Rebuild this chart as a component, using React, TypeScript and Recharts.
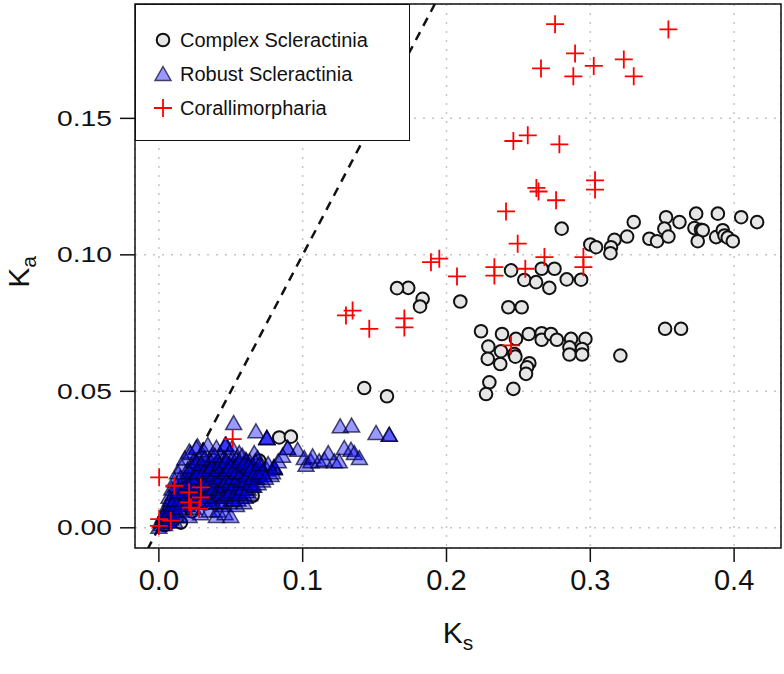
import React from 'react';
import { ScatterChart, Scatter, XAxis, YAxis, CartesianGrid, ReferenceArea } from 'recharts';

const fontStack = '"Liberation Sans", Arial, Helvetica, sans-serif';

// Ks / Ka pairs
const complexScleractinia: [number, number][] = [
  [0.2801, 0.1096], [0.3302, 0.112], [0.3527, 0.1138], [0.362, 0.112], [0.3736, 0.1151],
  [0.3887, 0.1151], [0.4049, 0.1138], [0.416, 0.112], [0.3515, 0.1096], [0.3724, 0.1098],
  [0.377, 0.1092], [0.3782, 0.109], [0.3411, 0.1059], [0.3464, 0.105], [0.3543, 0.1067],
  [0.3747, 0.105], [0.3875, 0.1065], [0.3921, 0.109], [0.3933, 0.1071], [0.3956, 0.1063],
  [0.3991, 0.105], [0.3256, 0.1067], [0.3168, 0.1055], [0.3144, 0.1028], [0.314, 0.1006],
  [0.3, 0.1038], [0.304, 0.1028],
  [0.2449, 0.0943], [0.2541, 0.0908], [0.2623, 0.09], [0.2662, 0.0949], [0.2751, 0.0949],
  [0.2715, 0.0879], [0.2836, 0.091], [0.2936, 0.0909],
  [0.1734, 0.0879], [0.1656, 0.0878], [0.1834, 0.0839], [0.1816, 0.0811], [0.2096, 0.0829],
  [0.243, 0.0808], [0.2523, 0.0808],
  [0.224, 0.072], [0.2386, 0.071], [0.2483, 0.0692], [0.2572, 0.071], [0.2662, 0.0713],
  [0.2662, 0.0689], [0.2727, 0.071], [0.2767, 0.0689], [0.2866, 0.0692], [0.2966, 0.0692],
  [0.2855, 0.0661], [0.2855, 0.0635], [0.2943, 0.0655], [0.2943, 0.0635], [0.2291, 0.0664],
  [0.2287, 0.0619], [0.2374, 0.06], [0.2379, 0.0647], [0.2472, 0.0637], [0.2479, 0.0627],
  [0.2576, 0.0603], [0.256, 0.0588], [0.2553, 0.0564], [0.2298, 0.0533], [0.2275, 0.049],
  [0.2465, 0.0509], [0.3209, 0.0631], [0.352, 0.0729], [0.3631, 0.0729],
  [0.1428, 0.0512], [0.1586, 0.0482], [0.0837, 0.0331], [0.0918, 0.0334], [0.0698, 0.0246],
  [0.0501, 0.0172], [0.0501, 0.0148], [0.0385, 0.0117], [0.064, 0.0136], [0.0652, 0.0117],
  [0.0153, 0.0019], [0.0373, 0.0117], [0.023, 0.006], [0.01, 0.003], [0.004, 0.001],
  [0.03, 0.012], [0.045, 0.02], [0.06, 0.022], [0.033, 0.009],
];

const robustScleractinia: [number, number][] = [
  [0.052, 0.038], [0.0675, 0.035], [0.0751, 0.0325], [0.0751, 0.0325], [0.0751, 0.0325],
  [0.0895, 0.0289], [0.0895, 0.0289], [0.0965, 0.0282], [0.1011, 0.0252], [0.1023, 0.0227],
  [0.1057, 0.024], [0.1069, 0.0258], [0.1115, 0.024], [0.115, 0.0246], [0.1178, 0.027],
  [0.122, 0.024], [0.1254, 0.024], [0.1289, 0.0289], [0.1336, 0.0282], [0.1359, 0.027],
  [0.1394, 0.0252], [0.1261, 0.0368], [0.134, 0.0371], [0.151, 0.0344], [0.1602, 0.0337],
  [0.1602, 0.0337], [0.0802, 0.0215], [0.0802, 0.0215], [0.0802, 0.0215], [0.0663, 0.027],
  [0.0687, 0.0252], [0.0559, 0.027], [0.0605, 0.0246], [0.0466, 0.0301], [0.0466, 0.0301],
  [0.0269, 0.0295], [0.0211, 0.0276],
  [0.0, 0.0], [0.001, 0.002], [0.002, 0.001], [0.003, 0.003], [0.004, 0.001], [0.004, 0.005],
  [0.005, 0.002], [0.006, 0.004], [0.006, 0.008], [0.007, 0.002], [0.007, 0.011], [0.008, 0.006],
  [0.009, 0.004], [0.009, 0.014], [0.01, 0.009], [0.011, 0.002], [0.011, 0.017], [0.012, 0.006],
  [0.012, 0.012], [0.013, 0.02], [0.014, 0.009], [0.014, 0.004], [0.015, 0.015], [0.016, 0.022],
  [0.016, 0.011], [0.017, 0.006], [0.018, 0.018], [0.018, 0.025], [0.019, 0.013], [0.019, 0.008],
  [0.02, 0.021], [0.021, 0.016], [0.021, 0.004], [0.022, 0.027], [0.022, 0.011], [0.023, 0.019],
  [0.024, 0.007], [0.024, 0.024], [0.025, 0.014], [0.026, 0.029], [0.026, 0.02], [0.027, 0.01],
  [0.028, 0.017], [0.028, 0.025], [0.029, 0.005], [0.03, 0.022], [0.03, 0.013], [0.031, 0.028],
  [0.032, 0.018], [0.032, 0.009], [0.033, 0.024], [0.034, 0.015], [0.034, 0.03], [0.035, 0.006],
  [0.036, 0.02], [0.036, 0.012], [0.037, 0.026], [0.038, 0.017], [0.038, 0.009], [0.039, 0.023],
  [0.04, 0.029], [0.04, 0.014], [0.04, 0.004], [0.041, 0.006], [0.042, 0.02], [0.042, 0.011],
  [0.043, 0.026], [0.044, 0.016], [0.045, 0.008], [0.045, 0.023], [0.046, 0.03], [0.046, 0.005],
  [0.047, 0.013], [0.048, 0.019], [0.048, 0.026], [0.049, 0.009], [0.05, 0.016], [0.05, 0.004],
  [0.051, 0.022], [0.051, 0.029], [0.052, 0.012], [0.053, 0.019], [0.054, 0.025], [0.054, 0.008],
  [0.055, 0.015], [0.056, 0.021], [0.057, 0.011], [0.058, 0.018], [0.058, 0.026], [0.059, 0.009],
  [0.06, 0.014], [0.061, 0.021], [0.062, 0.017], [0.063, 0.012], [0.063, 0.024], [0.064, 0.019],
  [0.065, 0.015], [0.066, 0.022], [0.068, 0.018], [0.07, 0.02], [0.072, 0.017], [0.075, 0.021],
  [0.078, 0.019], [0.08, 0.022], [0.083, 0.024], [0.086, 0.026],
  // denser core
  [0.005, 0.006], [0.008, 0.01], [0.01, 0.012], [0.012, 0.015], [0.013, 0.008], [0.015, 0.018],
  [0.015, 0.01], [0.017, 0.014], [0.019, 0.017], [0.02, 0.012], [0.022, 0.015], [0.023, 0.009],
  [0.024, 0.018], [0.025, 0.022], [0.026, 0.013], [0.027, 0.016], [0.028, 0.02], [0.029, 0.011],
  [0.03, 0.018], [0.031, 0.014], [0.031, 0.022], [0.032, 0.012], [0.033, 0.019], [0.034, 0.022],
  [0.034, 0.01], [0.035, 0.016], [0.036, 0.024], [0.037, 0.013], [0.037, 0.019], [0.038, 0.021],
  [0.039, 0.011], [0.039, 0.016], [0.04, 0.019], [0.041, 0.024], [0.041, 0.013], [0.042, 0.017],
  [0.043, 0.021], [0.043, 0.009], [0.044, 0.014], [0.044, 0.019], [0.045, 0.025], [0.046, 0.017],
  [0.046, 0.011], [0.047, 0.021], [0.048, 0.015], [0.049, 0.023], [0.049, 0.013], [0.05, 0.019],
  [0.051, 0.01], [0.051, 0.025], [0.052, 0.016], [0.053, 0.022], [0.053, 0.013], [0.054, 0.018],
  [0.055, 0.023], [0.055, 0.01], [0.056, 0.016], [0.057, 0.02], [0.057, 0.014], [0.058, 0.022],
  [0.059, 0.016], [0.06, 0.019], [0.06, 0.011], [0.061, 0.024], [0.062, 0.014], [0.063, 0.02],
  [0.064, 0.016], [0.065, 0.022], [0.066, 0.018], [0.067, 0.024], [0.068, 0.021], [0.069, 0.016],
  [0.071, 0.022], [0.073, 0.019], [0.076, 0.023], [0.079, 0.02],
  [0.016, 0.012], [0.018, 0.01], [0.018, 0.014], [0.02, 0.016], [0.02, 0.008], [0.021, 0.02],
  [0.022, 0.013], [0.023, 0.017], [0.023, 0.022], [0.024, 0.011], [0.025, 0.016], [0.025, 0.009],
  [0.026, 0.018], [0.026, 0.024], [0.027, 0.013], [0.027, 0.02], [0.028, 0.009], [0.029, 0.015],
  [0.029, 0.023], [0.03, 0.01], [0.03, 0.016], [0.031, 0.02], [0.032, 0.015], [0.032, 0.025],
  [0.033, 0.011], [0.033, 0.017], [0.034, 0.02], [0.035, 0.013], [0.035, 0.021], [0.036, 0.009],
  [0.036, 0.017], [0.037, 0.022], [0.038, 0.014], [0.038, 0.019], [0.039, 0.026], [0.04, 0.011],
  [0.04, 0.017], [0.041, 0.021], [0.042, 0.014], [0.042, 0.023], [0.043, 0.012], [0.043, 0.018],
  [0.044, 0.022], [0.045, 0.015], [0.045, 0.011], [0.046, 0.02], [0.047, 0.017], [0.047, 0.024],
  [0.048, 0.012], [0.048, 0.021], [0.049, 0.016], [0.05, 0.022], [0.05, 0.013], [0.051, 0.018],
  [0.052, 0.021], [0.052, 0.01], [0.053, 0.016], [0.054, 0.02], [0.054, 0.013], [0.055, 0.018],
  [0.056, 0.012], [0.056, 0.024], [0.057, 0.017], [0.058, 0.014], [0.058, 0.02], [0.059, 0.023],
  [0.06, 0.017], [0.061, 0.013], [0.061, 0.019], [0.062, 0.022], [0.063, 0.016], [0.064, 0.021],
  [0.065, 0.018], [0.066, 0.015], [0.067, 0.02], [0.069, 0.019], [0.07, 0.023], [0.072, 0.02],
  [0.074, 0.018],
  [0.003, 0.004], [0.005, 0.004], [0.007, 0.005], [0.008, 0.003], [0.009, 0.008], [0.01, 0.006],
  [0.011, 0.01], [0.012, 0.004], [0.013, 0.013], [0.014, 0.007],
];

const corallimorpharia: [number, number][] = [
  [0.2755, 0.1845], [0.3543, 0.1826], [0.2894, 0.1738], [0.2657, 0.1683], [0.2882, 0.1654],
  [0.3024, 0.1692], [0.3233, 0.1716], [0.3302, 0.1654], [0.2465, 0.1417], [0.2565, 0.1438],
  [0.2785, 0.1405], [0.2625, 0.1245], [0.264, 0.1232], [0.2762, 0.12], [0.3033, 0.1273],
  [0.3033, 0.1239], [0.2414, 0.1159], [0.2495, 0.1041], [0.1892, 0.0973], [0.195, 0.0986],
  [0.2073, 0.0921], [0.2333, 0.0955], [0.2333, 0.0924], [0.2548, 0.0949], [0.2681, 0.0992],
  [0.2952, 0.0992], [0.2952, 0.0955], [0.2449, 0.0668], [0.1707, 0.0767], [0.1707, 0.0734],
  [0.1301, 0.0778], [0.1347, 0.0796], [0.1463, 0.0729], [0.0513, 0.0325], [0.0002, 0.0185],
  [0.0107, 0.0154], [0.021, 0.013], [0.021, 0.0093], [0.0223, 0.0074], [0.0292, 0.0148],
  [0.0292, 0.0111], [0.028, 0.0069], [0.0002, 0.0032], [0.0, 0.0007], [0.0083, 0.0026],
];

// dashed Ka = Ks reference line
const identityLine: [number, number][] = [[-0.008, -0.008], [0.2, 0.2]];

const ksTicks = [0, 0.1, 0.2, 0.3, 0.4];
const kaTicks = [0, 0.05, 0.1, 0.15];
const ksDomain: [number, number] = [-0.0166, 0.4326];
const kaDomain: [number, number] = [-0.0074, 0.1919];

const toPoints = (pairs: [number, number][]) => pairs.map(([ks, ka]) => ({ ks, ka }));

const CircleMark = (p: any) => (
  <circle cx={p.cx} cy={p.cy} r={6.3} fill="#e6e6e6" stroke="#111" strokeWidth={2} />
);

const TriangleMark = (p: any) => (
  <polygon
    points={`${p.cx},${p.cy - 8.5} ${p.cx + 8},${p.cy + 5.5} ${p.cx - 8},${p.cy + 5.5}`}
    fill="#0000ff"
    fillOpacity={0.4}
    stroke="#000030"
    strokeOpacity={0.7}
    strokeWidth={1.5}
  />
);

const PlusMark = (p: any) => (
  <path
    d={`M${p.cx - 9},${p.cy}H${p.cx + 9}M${p.cx},${p.cy - 9}V${p.cy + 9}`}
    stroke="#ff0000"
    strokeWidth={1.8}
    fill="none"
  />
);

const YTick = ({ x, y, payload }: any) => (
  <text
    x={x}
    y={y}
    textAnchor="end"
    dominantBaseline="central"
    fontFamily={fontStack}
    fontSize={22}
    fill="#111"
    textLength={55}
    lengthAdjust="spacingAndGlyphs"
  >
    {payload.value.toFixed(2)}
  </text>
);

const XTitle = ({ viewBox }: any) => (
  <text
    x={viewBox.x + viewBox.width / 2}
    y={643}
    textAnchor="middle"
    fontFamily={fontStack}
    fontSize={30}
    fill="#111"
  >
    K<tspan dy={7} fontSize={21}>s</tspan>
  </text>
);

const YTitle = () => (
  <text
    x={0}
    y={0}
    transform="translate(29,272) rotate(-90)"
    textAnchor="middle"
    fontFamily={fontStack}
    fontSize={30}
    fill="#111"
  >
    K<tspan dy={7} fontSize={21}>a</tspan>
  </text>
);

const legendItems = [
  { label: 'Complex Scleractinia', kind: 'circle' },
  { label: 'Robust Scleractinia', kind: 'triangle' },
  { label: 'Corallimorpharia', kind: 'plus' },
];

function LegendBox() {
  return (
    <div
      style={{
        position: 'absolute',
        left: 135,
        top: 4,
        width: 275,
        height: 137,
        boxSizing: 'border-box',
        border: '1.5px solid #111',
        background: '#fff',
      }}
    >
      {legendItems.map((item, i) => (
        <div
          key={item.label}
          style={{
            position: 'absolute',
            left: 14,
            top: 22 + i * 34,
            height: 26,
            display: 'flex',
            alignItems: 'center',
            fontFamily: fontStack,
            fontSize: 20,
            color: '#111',
            whiteSpace: 'nowrap',
          }}
        >
          <svg width={26} height={26} style={{ marginRight: 4 }}>
            {item.kind === 'circle' && <CircleMark cx={13} cy={13} />}
            {item.kind === 'triangle' && <TriangleMark cx={13} cy={14} />}
            {item.kind === 'plus' && <PlusMark cx={13} cy={13} />}
          </svg>
          {item.label}
        </div>
      ))}
    </div>
  );
}

export default function App() {
  return (
    <div style={{ position: 'absolute', left: 0, top: 0, width: 784, height: 674, background: '#fff' }}>
      <ScatterChart width={784} height={674} margin={{ top: 4, right: 3, bottom: 0, left: 0 }}>
        <CartesianGrid stroke="#c4c4c4" strokeWidth={1.5} strokeDasharray="2 7" />
        <XAxis
          type="number"
          dataKey="ks"
          domain={ksDomain}
          ticks={ksTicks}
          allowDataOverflow
          tickFormatter={(v: number) => v.toFixed(1)}
          axisLine={false}
          tickLine={{ stroke: '#111', strokeWidth: 1.5 }}
          tickSize={14}
          tickMargin={7}
          tick={{ fontFamily: fontStack, fontSize: 29, fill: '#111' }}
          height={126}
          label={{ content: XTitle }}
        />
        <YAxis
          type="number"
          dataKey="ka"
          domain={kaDomain}
          ticks={kaTicks}
          allowDataOverflow
          axisLine={false}
          tickLine={{ stroke: '#111', strokeWidth: 1.5 }}
          tickSize={15}
          tickMargin={8}
          tick={YTick}
          width={135}
          label={{ content: YTitle }}
        />
        <Scatter
          data={toPoints(identityLine)}
          line={{ stroke: '#111', strokeWidth: 2.5, strokeDasharray: '9 7' }}
          shape={() => null}
          isAnimationActive={false}
        />
        <Scatter data={toPoints(complexScleractinia)} shape={CircleMark} isAnimationActive={false} />
        <Scatter data={toPoints(robustScleractinia)} shape={TriangleMark} isAnimationActive={false} />
        <Scatter data={toPoints(corallimorpharia)} shape={PlusMark} isAnimationActive={false} />
        <ReferenceArea
          x1={ksDomain[0]}
          x2={ksDomain[1]}
          y1={kaDomain[0]}
          y2={kaDomain[1]}
          fill="none"
          stroke="#111"
          strokeWidth={1.5}
          ifOverflow="visible"
        />
      </ScatterChart>
      <LegendBox />
    </div>
  );
}
